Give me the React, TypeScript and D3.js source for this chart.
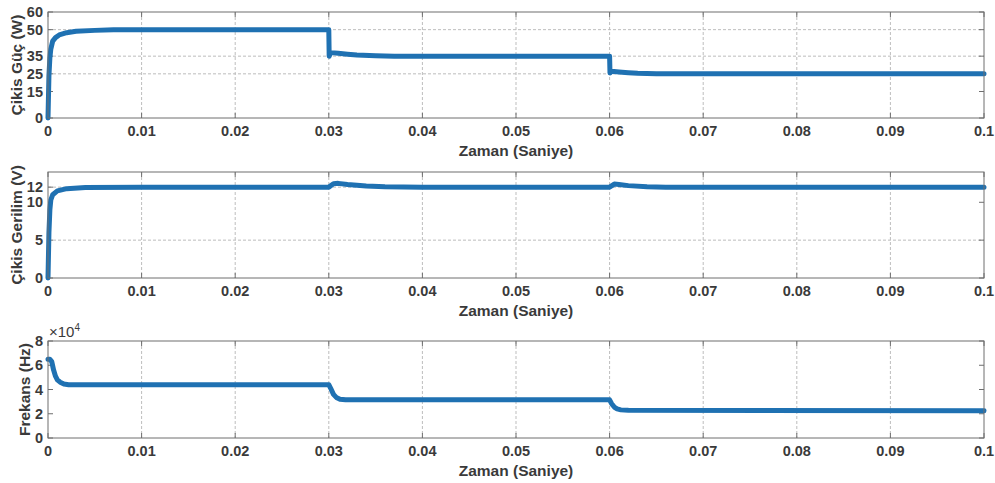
import { useMemo } from "react"
import * as d3 from "d3"

// Output power (W)
const powerTime = [0, 0.00005, 0.0001, 0.0002, 0.0003, 0.0005, 0.0008, 0.0012, 0.002, 0.003, 0.005, 0.007, 0.01, 0.02998, 0.03, 0.03004, 0.0302, 0.031, 0.032, 0.033, 0.035, 0.037, 0.04, 0.05998, 0.06, 0.06004, 0.0602, 0.061, 0.062, 0.063, 0.065, 0.07, 0.1]
const powerVals = [0, 12, 24, 34, 39, 43.5, 45.5, 47, 48.3, 49.1, 49.6, 50, 50, 50, 50, 35, 37, 36.6, 36.1, 35.7, 35.3, 35, 35, 35, 35, 25.5, 26.4, 26, 25.6, 25.3, 25, 25, 25]

// Output voltage (V)
const voltTime = [0, 0.00005, 0.0001, 0.0002, 0.0003, 0.0005, 0.001, 0.002, 0.004, 0.01, 0.03, 0.0305, 0.031, 0.032, 0.034, 0.036, 0.04, 0.06, 0.0605, 0.061, 0.062, 0.064, 0.066, 0.1]
const voltVals = [0, 3, 6, 9, 10.3, 11, 11.5, 11.8, 11.95, 12, 12, 12.45, 12.5, 12.35, 12.15, 12.05, 12, 12, 12.4, 12.35, 12.2, 12.05, 12, 12]

// Switching frequency (x1e4 Hz)
const freqTime = [0, 0.0002, 0.0004, 0.0006, 0.0008, 0.001, 0.0013, 0.0017, 0.0022, 0.03, 0.0302, 0.0305, 0.0308, 0.0312, 0.0318, 0.06, 0.0602, 0.0605, 0.0608, 0.0612, 0.062, 0.1]
const freqVals = [6.5, 6.5, 6.3, 5.6, 5.1, 4.8, 4.6, 4.45, 4.4, 4.4, 4.1, 3.6, 3.35, 3.2, 3.15, 3.15, 2.85, 2.55, 2.4, 2.32, 2.28, 2.25]

const xTicks = [0, 0.01, 0.02, 0.03, 0.04, 0.05, 0.06, 0.07, 0.08, 0.09, 0.1]
const xTickLabels = ["0", "0.01", "0.02", "0.03", "0.04", "0.05", "0.06", "0.07", "0.08", "0.09", "0.1"]

const powerTicks = [0, 15, 25, 35, 50, 60]
const powerGrid = [25, 35, 50]
const voltTicks = [0, 5, 10, 12]
const voltGrid = [5, 12]
const freqTicks = [0, 2, 4, 6, 8]
const freqGrid: number[] = []

const LINE = "#1f71b2"
const FRAME = "#6e6e6e"
const GRID = "#bdbdbd"
const TEXT = "#3a3a3a"
const FONT = "'Liberation Sans', Arial, sans-serif"

const left = 48
const right = 984

type PanelProps = {
  top: number
  bottom: number
  domain: [number, number]
  yTicks: number[]
  yGrid: number[]
  times: number[]
  values: number[]
  yLabel: string
  labelX: number
  exponent?: boolean
}

const Panel = ({ top, bottom, domain, yTicks, yGrid, times, values, yLabel, labelX, exponent }: PanelProps) => {
  const x = d3.scaleLinear().domain([0, 0.1]).range([left, right])
  const y = d3.scaleLinear().domain(domain).range([bottom, top])

  const path = useMemo(() => {
    const pts = times.map((t, i) => [t, values[i]] as [number, number])
    return d3
      .line<[number, number]>()
      .x((d) => x(d[0]))
      .y((d) => y(d[1]))(pts)
  }, [times, values])

  const tk = 5
  return (
    <g>
      <rect x={left} y={top} width={right - left} height={bottom - top} fill="#fff" />
      {/* vertical grid */}
      {xTicks.slice(1, -1).map((t) => (
        <line key={"vg" + t} x1={x(t)} x2={x(t)} y1={top} y2={bottom} stroke={GRID} strokeWidth={1} strokeDasharray="3,2" />
      ))}
      {/* horizontal grid */}
      {yGrid.map((v) => (
        <line key={"hg" + v} x1={left} x2={right} y1={y(v)} y2={y(v)} stroke={GRID} strokeWidth={1} strokeDasharray="3,2" />
      ))}
      {/* ticks on all four sides */}
      {xTicks.map((t) => (
        <g key={"xt" + t}>
          <line x1={x(t)} x2={x(t)} y1={bottom} y2={bottom - tk} stroke={FRAME} />
          <line x1={x(t)} x2={x(t)} y1={top} y2={top + tk} stroke={FRAME} />
        </g>
      ))}
      {yTicks.map((v) => (
        <g key={"yt" + v}>
          <line x1={left} x2={left + tk} y1={y(v)} y2={y(v)} stroke={FRAME} />
          <line x1={right} x2={right - tk} y1={y(v)} y2={y(v)} stroke={FRAME} />
        </g>
      ))}
      <path d={path ?? ""} fill="none" stroke={LINE} strokeWidth={5} strokeLinejoin="round" strokeLinecap="round" />
      <rect x={left} y={top} width={right - left} height={bottom - top} fill="none" stroke={FRAME} strokeWidth={1} />
      {/* tick labels */}
      {xTicks.map((t, i) => (
        <text key={"xl" + t} x={x(t)} y={bottom + 18} textAnchor="middle" fontSize={14.5} fontWeight="bold" fill={TEXT}>
          {xTickLabels[i]}
        </text>
      ))}
      {yTicks.map((v) => (
        <text key={"yl" + v} x={left - 5} y={y(v) + 5} textAnchor="end" fontSize={14.5} fontWeight="bold" fill={TEXT}>
          {v}
        </text>
      ))}
      {exponent && (
        <text x={left + 1} y={top - 4} fontSize={15} fill={TEXT}>
          ×10
          <tspan dy={-6} fontSize={10}>4</tspan>
        </text>
      )}
      <text x={(left + right) / 2} y={bottom + 38} textAnchor="middle" fontSize={15.5} fontWeight="bold" fill={TEXT}>
        Zaman (Saniye)
      </text>
      <text
        transform={`translate(${labelX},${(top + bottom) / 2}) rotate(-90)`}
        textAnchor="middle"
        fontSize={15.5}
        fontWeight="bold"
        fill={TEXT}
      >
        {yLabel}
      </text>
    </g>
  )
}

export default function App() {
  return (
    <svg
      width={995}
      height={483}
      style={{ position: "absolute", left: 0, top: 0, background: "#fff", fontFamily: FONT }}
    >
      <rect width={995} height={483} fill="#fff" />
      <Panel top={12} bottom={118} domain={[0, 60]} yTicks={powerTicks} yGrid={powerGrid} times={powerTime} values={powerVals} yLabel="Çikis Güç (W)" labelX={22} />
      <Panel top={172} bottom={278} domain={[0, 14]} yTicks={voltTicks} yGrid={voltGrid} times={voltTime} values={voltVals} yLabel="Çikis Gerilim (V)" labelX={22} />
      <Panel top={341} bottom={438} domain={[0, 8]} yTicks={freqTicks} yGrid={freqGrid} times={freqTime} values={freqVals} yLabel="Frekans (Hz)" labelX={30} exponent />
    </svg>
  )
}
